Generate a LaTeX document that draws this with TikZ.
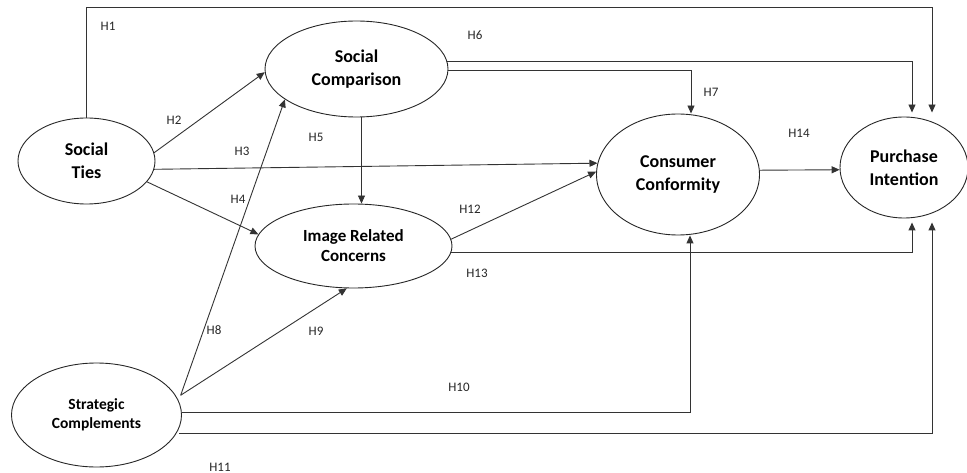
\documentclass[tikz,border=0pt]{standalone}
\usepackage{fontspec}
\setmainfont{Carlito}
\usetikzlibrary{shapes.geometric,arrows.meta}
\begin{document}
\begin{tikzpicture}[x=1pt,y=-1pt,
  construct/.style={ellipse,draw=black!85,line width=0.9pt,inner sep=0pt,align=center,
    font=\bfseries\fontsize{18}{23}\selectfont},
  arr/.style={draw=black!80,line width=0.9pt,-{Triangle[length=8pt,width=7pt]}},
  hlab/.style={font=\fontsize{13}{15}\selectfont,text=black!85,inner sep=0pt}]
\useasboundingbox (0,0) rectangle (967,473);
% constructs
\node[construct,minimum width=137pt,minimum height=86pt] (ST) at (86.5,161) {Social\\Ties};
\node[construct,minimum width=183pt,minimum height=96pt] (SC) at (356.5,69) {Social\\Comparison};
\node[construct,minimum width=197pt,minimum height=84pt,
  font=\bfseries\fontsize{17}{20}\selectfont] (IRC) at (353.5,246) {Image Related\\Concerns};
\node[construct,minimum width=163pt,minimum height=121pt] (CC) at (678,174.5) {Consumer\\Conformity};
\node[construct,minimum width=128pt,minimum height=101pt] (PI) at (904,167.5) {Purchase\\Intention};
\node[construct,minimum width=170pt,minimum height=104pt,
  font=\bfseries\fontsize{15.5}{19}\selectfont] (SCo) at (96.5,415) {Strategic\\Complements};
% connectors
\draw[arr] (ST.north) -- ++(0,-110) -| ([xshift=28pt,yshift=4pt]PI.north);
\draw[arr] (ST.7) -- (SC.182);
\draw[arr] (ST.-7) -- (CC.172);
\draw[arr] (ST.-19) -- (IRC.173);
\draw[arr] ([xshift=5pt]SC.south) -- ([xshift=5pt]SC.south |- IRC.north);
\draw[arr] (SC.5) -| ([xshift=8pt,yshift=4pt]PI.north);
\draw[arr] (SC.-1) -| ([xshift=13pt]CC.north);
\draw[arr] (IRC.4) -- (CC.178);
\draw[arr] (IRC.-4) -| ([xshift=8pt,yshift=-4pt]PI.south);
\draw[arr] (CC.3) -- (PI.182);
\draw[arr] ([xshift=5pt]SCo.14) -- (SC.203);
\draw[arr] ([xshift=5pt]SCo.14) -- (IRC.261);
\draw[arr] (SCo.2) -| ([xshift=12pt]CC.south);
\draw[arr] ([xshift=3pt]SCo.-13) -| ([xshift=28pt,yshift=-4pt]PI.south);
% labels
\node[hlab] (h1) at (108,26) {H1};
\node[hlab] (h2) at (174,120) {H2};
\node[hlab] (h3) at (242,151) {H3};
\node[hlab] (h4) at (238,199) {H4};
\node[hlab] (h5) at (316,137) {H5};
\node[hlab] (h6) at (475,35) {H6};
\node[hlab] (h7) at (711,92) {H7};
\node[hlab] (h8) at (214,330) {H8};
\node[hlab] (h9) at (316,331) {H9};
\node[hlab] (h10) at (459,387) {H10};
\node[hlab] (h11) at (220,467) {H11};
\node[hlab] (h12) at (470,209) {H12};
\node[hlab] (h13) at (477,273) {H13};
\node[hlab] (h14) at (799,133) {H14};
\end{tikzpicture}
\end{document}
